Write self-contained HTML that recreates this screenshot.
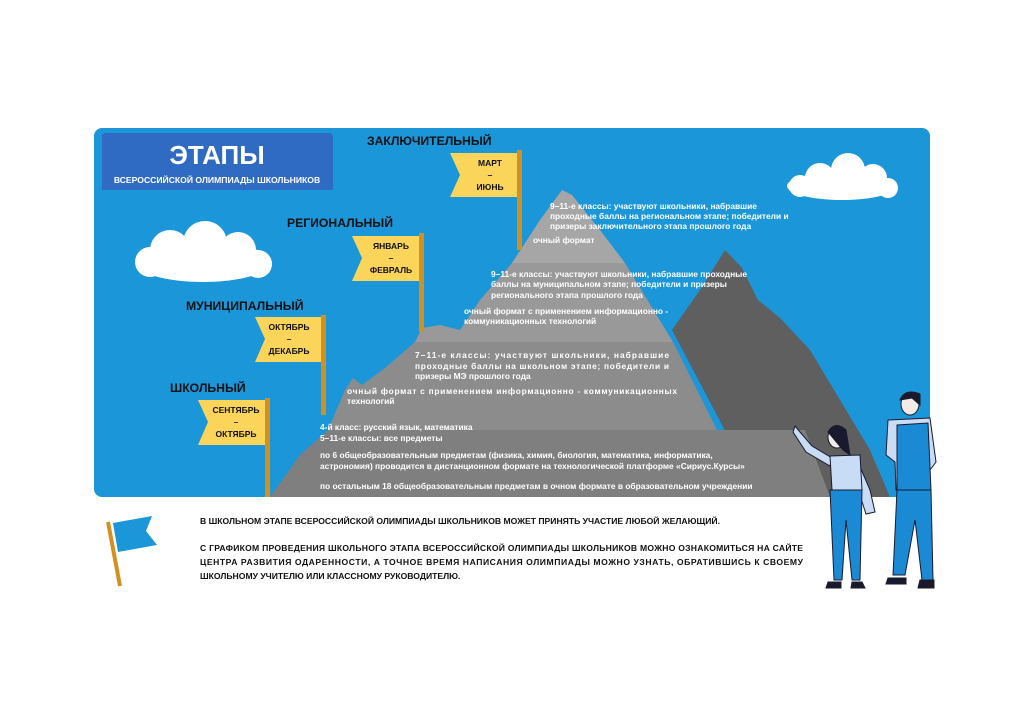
<!DOCTYPE html>
<html><head><meta charset="utf-8"><style>
body{margin:0;background:#fff;}
svg{display:block;font-family:"Liberation Sans","DejaVu Sans",sans-serif;}
.w{fill:#fff;font-weight:bold;font-size:8.4px;}
.b{fill:#111;font-weight:bold;font-size:8.6px;}
.h{fill:#111;font-weight:bold;font-size:12.2px;}
.f{fill:#111;font-weight:bold;font-size:8.5px;text-anchor:middle;}
</style></head><body>
<svg width="1024" height="724" viewBox="0 0 1024 724">
<rect x="94" y="128" width="836" height="369" rx="8" fill="#1a96d9"/>
<polygon points="102,134 327,134 333,190 339,190 102,190" fill="#2f6bc2"/>
<rect x="102" y="133" width="231" height="57" rx="4" fill="#2f6bc2"/>
<text x="217" y="164" fill="#fff" font-size="26" font-weight="bold" text-anchor="middle">ЭТАПЫ</text>
<text x="217" y="183" fill="#fff" font-size="8.6" font-weight="bold" text-anchor="middle">ВСЕРОССИЙСКОЙ ОЛИМПИАДЫ ШКОЛЬНИКОВ</text>
<g fill="#fff">
<ellipse cx="203" cy="262" rx="68" ry="20"/><circle cx="170" cy="250" r="20"/><circle cx="205" cy="243" r="22"/><circle cx="238" cy="250" r="18"/><circle cx="150" cy="262" r="15"/><circle cx="258" cy="264" r="14"/>
<ellipse cx="842" cy="186" rx="55" ry="14"/><circle cx="820" cy="178" r="15"/><circle cx="848" cy="170" r="17"/><circle cx="873" cy="178" r="14"/><circle cx="800" cy="186" r="11"/><circle cx="888" cy="188" r="10"/>
</g>
<polygon points="672,330 700,290 725,250 742,268 758,300 780,318 810,350 840,400 870,450 890,497 760,497" fill="#5f5f5f"/>
<polygon points="270,497 300,455 328,430 805,430 830,497" fill="#7f7f7f"/>
<polygon points="328,430 345,390 353,378 362,385 385,368 415,342 673,342 717,430" fill="#8c8c8c"/>
<polygon points="415,342 422,328 440,325 460,330 480,300 512,263 625,263 673,342" fill="#999"/>
<polygon points="512,263 540,220 562,190 572,195 600,230 625,263" fill="#a6a6a6"/>
<g>
<rect x="265" y="398" width="5" height="99" fill="#d4901f"/>
<polygon points="198,400 265,400 265,445 198,445 208,422" fill="#fbd45a"/>
<text class="f" x="236" y="413">СЕНТЯБРЬ</text><text class="f" x="236" y="425">–</text><text class="f" x="236" y="437">ОКТЯБРЬ</text>
<rect x="321" y="315" width="5" height="100" fill="#d4901f"/>
<polygon points="255,317 321,317 321,362 255,362 265,339" fill="#fbd45a"/>
<text class="f" x="289" y="330">ОКТЯБРЬ</text><text class="f" x="289" y="342">–</text><text class="f" x="289" y="354">ДЕКАБРЬ</text>
<rect x="419" y="233" width="5" height="99" fill="#d4901f"/>
<polygon points="352,236 419,236 419,281 352,281 362,258" fill="#fbd45a"/>
<text class="f" x="391" y="249">ЯНВАРЬ</text><text class="f" x="391" y="261">–</text><text class="f" x="391" y="273">ФЕВРАЛЬ</text>
<rect x="517" y="150" width="5" height="100" fill="#d4901f"/>
<polygon points="450,153 517,153 517,197 450,197 460,175" fill="#fbd45a"/>
<text class="f" x="490" y="166">МАРТ</text><text class="f" x="490" y="178">–</text><text class="f" x="490" y="190">ИЮНЬ</text>
</g>
<text class="h" x="367" y="145">ЗАКЛЮЧИТЕЛЬНЫЙ</text>
<text class="h" x="287" y="227">РЕГИОНАЛЬНЫЙ</text>
<text class="h" x="186" y="310">МУНИЦИПАЛЬНЫЙ</text>
<text class="h" x="170" y="392">ШКОЛЬНЫЙ</text>
<text class="w" x="550" y="209">9–11-е классы: участвуют школьники, набравшие</text>
<text class="w" x="550" y="219">проходные баллы на региональном этапе; победители и</text>
<text class="w" x="550" y="229">призеры заключительного этапа прошлого года</text>
<text class="w" x="533" y="243">очный формат</text>
<text class="w" x="491" y="277">9–11-е классы: участвуют школьники, набравшие проходные</text>
<text class="w" x="491" y="287">баллы на муниципальном этапе; победители и призеры</text>
<text class="w" x="491" y="298">регионального этапа прошлого года</text>
<text class="w" x="464" y="314">очный формат с применением информационно -</text>
<text class="w" x="464" y="324">коммуникационных технологий</text>
<text class="w" x="415" y="358" textLength="254">7–11-е классы: участвуют школьники, набравшие</text>
<text class="w" x="415" y="369" textLength="254">проходные баллы на школьном этапе; победители и</text>
<text class="w" x="415" y="379">призеры МЭ прошлого года</text>
<text class="w" x="347" y="394" textLength="330">очный формат с применением информационно - коммуникационных</text>
<text class="w" x="347" y="404">технологий</text>
<text class="w" x="320" y="430">4-й класс: русский язык, математика</text>
<text class="w" x="320" y="441">5–11-е классы: все предметы</text>
<text class="w" x="320" y="458">по 6 общеобразовательным предметам (физика, химия, биология, математика, информатика,</text>
<text class="w" x="320" y="469">астрономия) проводится в дистанционном формате на технологической платформе «Сириус.Курсы»</text>
<text class="w" x="320" y="489">по остальным 18 общеобразовательным предметам в очном формате в образовательном учреждении</text>
<line x1="108" y1="522" x2="120" y2="586" stroke="#d4901f" stroke-width="4"/>
<polygon points="113,523 152,516 146,531 157,545 118,552" fill="#1a96d9"/>
<text class="b" x="200" y="524">В ШКОЛЬНОМ ЭТАПЕ ВСЕРОССИЙСКОЙ ОЛИМПИАДЫ ШКОЛЬНИКОВ МОЖЕТ ПРИНЯТЬ УЧАСТИЕ ЛЮБОЙ ЖЕЛАЮЩИЙ.</text>
<text class="b" x="200" y="551" textLength="603">С ГРАФИКОМ ПРОВЕДЕНИЯ ШКОЛЬНОГО ЭТАПА ВСЕРОССИЙСКОЙ ОЛИМПИАДЫ ШКОЛЬНИКОВ МОЖНО ОЗНАКОМИТЬСЯ НА САЙТЕ</text>
<text class="b" x="200" y="565" textLength="603">ЦЕНТРА РАЗВИТИЯ ОДАРЕННОСТИ, А ТОЧНОЕ ВРЕМЯ НАПИСАНИЯ ОЛИМПИАДЫ МОЖНО УЗНАТЬ, ОБРАТИВШИСЬ К СВОЕМУ</text>
<text class="b" x="200" y="579">ШКОЛЬНОМУ УЧИТЕЛЮ ИЛИ КЛАССНОМУ РУКОВОДИТЕЛЮ.</text>
<g stroke="#1a1a2e" stroke-width="1">
<path d="M795,426 L800,432 L812,446 L832,458 L830,466 L806,452 L793,432 Z" fill="#c8dcf5"/>
<path d="M858,462 L870,490 L875,512 L866,514 L855,480" fill="#c8dcf5"/>
<path d="M830,456 L860,455 L862,490 L832,490 Z" fill="#c8dcf5"/>
<path d="M830,490 L862,490 L860,580 L852,580 L846,520 L842,580 L834,580 Z" fill="#1a8ad4"/>
<ellipse cx="837" cy="437" rx="9" ry="11" fill="#f3ece6"/>
<path d="M828,432 Q835,420 846,430 L850,455 L843,450 Z" fill="#1a1a2e"/>
<path d="M828,582 L841,582 L841,588 L826,588 Z M852,582 L862,582 L865,588 L851,588 Z" fill="#1a1a2e"/>
</g>
<g stroke="#1a1a2e" stroke-width="1">
<path d="M888,420 L930,418 L936,462 L930,470 L930,490 L896,490 L895,462 L886,455 Z" fill="#c8dcf5"/>
<path d="M897,425 L928,423 L931,490 L897,490 Z" fill="#1a8ad4"/>
<path d="M897,490 L931,490 L933,580 L922,580 L915,520 L905,575 L893,575 Z" fill="#1a8ad4"/>
<ellipse cx="910" cy="404" rx="9" ry="11" fill="#f3ece6"/>
<path d="M900,400 Q905,388 920,394 L920,405 L912,398 Z" fill="#1a1a2e"/>
<path d="M888,578 L906,578 L906,584 L886,584 Z M920,580 L934,580 L934,588 L918,588 Z" fill="#1a1a2e"/>
</g>
</svg>
</body></html>
